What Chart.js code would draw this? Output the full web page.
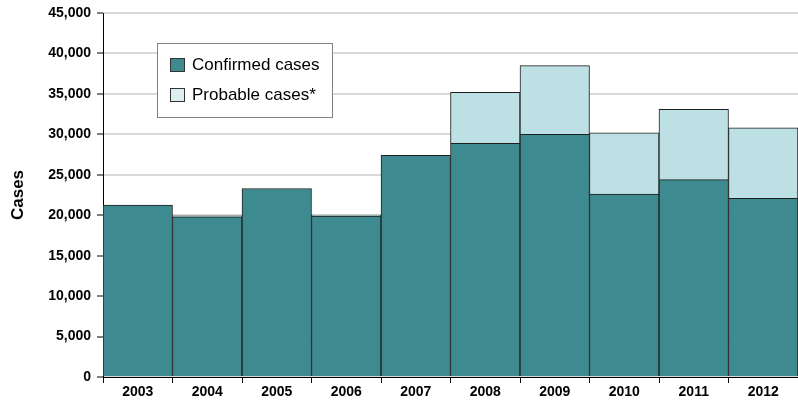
<!DOCTYPE html>
<html>
<head>
<meta charset="utf-8">
<script src="https://cdn.jsdelivr.net/npm/chart.js@4"></script>
<style>
  html, body { margin: 0; padding: 0; background: #fff; }
  #wrap { width: 798px; height: 403px; }
</style>
</head>
<body>
<div id="wrap"><canvas id="cases"></canvas></div>
<script>
const years = ['2003', '2004', '2005', '2006', '2007', '2008', '2009', '2010', '2011', '2012'];
const confirmed = [21250, 19800, 23300, 19900, 27400, 28900, 30000, 22600, 24400, 22100];
const probable = [0, 120, 0, 120, 0, 6300, 8500, 7600, 8700, 8700];
const yTicks = [0, 5000, 10000, 15000, 20000, 25000, 30000, 35000, 40000, 45000];

const FONT = "'Liberation Sans', Arial, sans-serif";

// legend box drawn inside the plot, like the original
const boxLegend = {
  id: 'boxLegend',
  afterDraw(chart) {
    const ctx = chart.ctx;
    ctx.save();
    ctx.fillStyle = '#fff';
    ctx.fillRect(157.5, 43.5, 175, 74);
    ctx.strokeStyle = '#808080';
    ctx.lineWidth = 1;
    ctx.strokeRect(157.5, 43.5, 175, 74);
    const swatch = ['#3d8a90', '#dceef0'];
    chart.data.datasets.forEach((ds, i) => {
      const y = 58 + i * 30;
      ctx.fillStyle = swatch[i];
      ctx.fillRect(170.5, y + 0.5, 14, 13);
      ctx.strokeStyle = '#333';
      ctx.strokeRect(170.5, y + 0.5, 14, 13);
      ctx.fillStyle = '#000';
      ctx.font = '17px ' + FONT;
      ctx.textBaseline = 'middle';
      ctx.fillText(ds.label, 192, y + 7);
    });
    ctx.restore();
  }
};

new Chart(document.getElementById('cases'), {
  type: 'bar',
  data: {
    labels: years,
    datasets: [
      {
        label: 'Confirmed cases',
        data: confirmed,
        backgroundColor: '#3d8a90',
        borderColor: '#1e1e1e',
        borderWidth: 1,
      },
      {
        label: 'Probable cases*',
        data: probable,
        backgroundColor: '#bce0e3',
        borderColor: '#1e1e1e',
        borderWidth: 1,
      },
    ],
  },
  options: {
    responsive: true,
    maintainAspectRatio: false,
    animation: false,
    layout: { padding: { top: 0, right: 0, left: 8, bottom: 0 } },
    datasets: { bar: { barPercentage: 1, categoryPercentage: 1 } },
    plugins: {
      legend: { display: false },
      tooltip: { enabled: false },
    },
    scales: {
      x: {
        stacked: true,
        offset: true,
        grid: { offset: true, drawOnChartArea: false, color: '#000', tickLength: 6 },
        border: { color: '#000' },
        ticks: { color: '#000', font: { family: FONT, size: 14, weight: 'bold' }, padding: 1, maxRotation: 0 },
        afterFit(scale) { scale.height = 26; },
      },
      y: {
        stacked: true,
        min: 0,
        max: 45000,
        afterBuildTicks(scale) { scale.ticks = yTicks.map(v => ({ value: v })); },
        grid: { color: '#d9d9d9', lineWidth: 2, tickColor: '#000', tickLength: 6, tickWidth: 1 },
        border: { color: '#000' },
        ticks: {
          color: '#000',
          font: { family: FONT, size: 14, weight: 'bold', lineHeight: 1 },
          padding: 6,
          callback: v => v.toLocaleString('en-US'),
        },
        title: { display: true, text: 'Cases', color: '#000', font: { family: FONT, size: 17, weight: 'bold' }, padding: 0 },
        afterFit(scale) { scale.width = 95; },
      },
    },
  },
  plugins: [boxLegend],
});
</script>
</body>
</html>
